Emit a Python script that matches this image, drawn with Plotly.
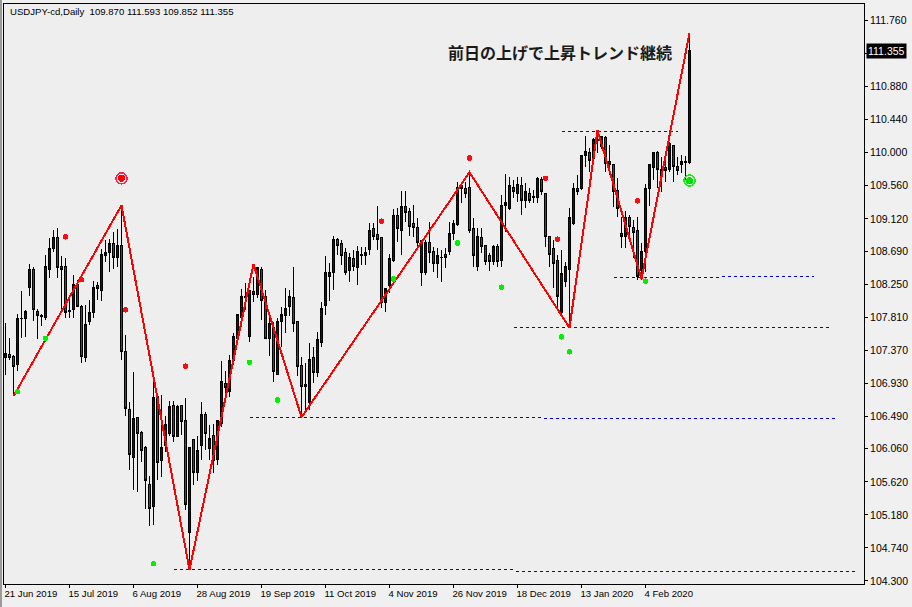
import plotly.graph_objects as go

open_ = [107.28,107.32,107.29,107.18,107.79,107.79,108.20,108.45,107.89,107.83,
107.81,108.45,108.72,108.87,108.49,108.49,107.90,107.91,108.25,107.95,
107.28,107.76,107.87,108.23,108.17,108.63,108.67,108.79,108.60,108.77,
107.35,106.58,105.94,106.47,106.27,106.08,105.59,105.29,106.75,105.90,
106.11,106.26,106.63,106.22,106.63,106.43,104.95,106.18,105.75,106.11,
106.52,106.07,106.23,105.92,106.39,106.93,106.82,107.24,107.53,107.81,
108.09,107.55,108.15,108.12,108.45,108.09,107.53,107.68,107.05,107.76,
107.83,107.96,108.08,107.75,107.17,106.92,106.67,107.27,107.08,107.47,
107.97,108.35,108.41,108.85,108.79,108.67,108.43,108.59,108.47,108.65,
108.63,108.71,108.99,108.91,108.87,108.01,108.23,108.56,109.16,108.97,
109.29,109.22,109.06,109.01,108.41,108.41,108.81,108.68,108.53,108.61,
108.65,108.69,108.92,109.05,109.56,109.52,109.54,108.99,108.49,108.87,
108.76,108.63,108.55,108.75,108.56,109.30,109.26,109.54,109.46,109.56,
109.36,109.46,109.42,109.41,109.64,109.46,108.88,108.72,108.57,107.87,
108.29,108.44,109.06,109.53,109.53,109.96,110.00,109.92,110.18,110.08,
110.20,109.88,109.84,109.50,108.92,108.88,109.14,109.01,108.97,108.43,
108.68,109.53,109.81,110.00,109.68,109.80,109.78,110.09,109.82,109.84,
109.88,109.870]
high = [107.73,107.53,107.31,107.85,108.16,107.91,108.52,108.48,107.92,107.85,
108.64,108.87,108.97,109.00,108.63,108.60,108.08,108.37,108.31,107.97,
107.97,108.04,108.29,108.28,108.72,108.84,108.85,108.95,108.99,109.30,
107.57,106.68,107.08,106.47,106.30,106.10,105.70,106.98,106.76,106.78,
106.50,106.70,106.70,106.64,106.64,106.74,106.08,106.18,106.23,106.68,
106.55,106.38,106.39,106.44,107.23,107.10,107.31,107.60,107.85,108.19,
108.27,108.17,108.35,108.48,108.48,108.17,107.84,107.75,107.80,107.95,
108.20,108.17,108.48,107.75,107.28,107.20,107.47,107.41,107.61,108.01,
108.63,108.53,108.89,108.87,108.84,108.73,108.67,108.71,108.76,108.75,
108.75,109.06,109.06,109.29,108.88,108.19,108.65,109.25,109.26,109.49,
109.49,109.26,109.30,109.13,108.84,108.84,109.08,108.75,108.73,108.71,
108.73,109.08,109.11,109.61,109.61,109.61,109.74,109.13,109.00,109.00,
108.77,108.67,108.77,108.79,109.44,109.72,109.68,109.64,109.68,109.68,
109.60,109.53,109.50,109.68,109.68,109.46,108.89,108.84,108.64,108.71,
108.55,109.26,109.60,109.70,109.97,110.22,110.06,110.20,110.30,110.22,
110.22,110.10,109.85,109.66,109.14,109.22,109.17,109.11,109.14,108.80,
109.58,109.85,110.01,110.02,109.94,109.97,110.14,110.10,109.94,109.97,
109.96,111.593]
low = [107.04,107.24,106.76,107.09,107.53,107.55,108.09,107.76,107.52,107.69,
107.77,108.33,108.68,108.33,107.87,107.80,107.80,107.80,107.95,107.20,
107.21,107.71,107.80,108.04,108.03,108.55,108.41,108.45,108.48,107.24,
106.50,105.78,105.51,105.48,105.88,105.26,105.03,105.05,105.64,105.68,
106.02,106.23,106.15,106.22,106.24,105.25,104.45,105.58,105.63,105.91,
106.04,105.91,105.74,105.84,106.35,106.75,106.75,107.18,107.49,107.68,
107.91,107.48,108.01,108.07,107.77,107.53,107.29,106.95,107.05,107.41,
107.60,107.83,107.61,107.03,106.48,106.54,106.58,106.94,107.02,107.41,
107.84,108.03,108.17,108.64,108.51,108.37,108.28,108.43,108.24,108.51,
108.51,108.64,108.84,108.71,107.93,107.88,108.13,108.55,108.81,108.64,
109.08,108.89,108.88,108.76,108.23,108.37,108.53,108.41,108.33,108.28,
108.47,108.64,108.84,109.02,109.33,109.40,108.93,108.48,108.43,108.67,
108.51,108.43,108.51,108.48,108.48,108.95,109.24,109.40,109.34,109.17,
109.26,109.33,109.33,109.33,109.44,108.75,108.48,108.20,107.93,107.81,
108.21,107.67,109.04,109.44,109.50,109.81,109.74,109.88,110.00,110.05,
109.74,109.70,109.28,109.14,108.73,108.73,108.88,108.60,108.31,108.31,
108.41,109.29,109.64,109.53,109.48,109.61,109.74,109.61,109.70,109.73,
109.64,109.852]
close = [107.33,107.28,107.15,107.79,107.80,107.89,108.44,107.91,107.83,107.82,
108.49,108.73,108.87,108.47,108.45,107.87,107.89,108.25,107.95,107.29,
107.72,107.87,108.21,108.19,108.64,108.67,108.79,108.60,108.77,107.36,
106.59,105.98,106.46,106.26,106.04,105.64,105.27,106.74,105.88,106.08,
106.38,106.62,106.22,106.62,106.42,105.32,106.08,105.74,106.04,106.52,
106.26,106.20,105.90,106.43,106.95,106.88,107.24,107.55,107.85,108.09,
108.08,108.16,108.11,108.47,108.04,107.53,107.73,107.09,107.76,107.85,
107.93,108.09,107.73,107.16,106.89,106.89,107.25,107.07,107.52,107.93,
108.40,108.40,108.85,108.76,108.63,108.40,108.60,108.48,108.68,108.63,
108.67,108.97,108.88,108.85,108.01,108.19,108.59,109.17,108.99,109.28,
109.21,109.02,109.01,108.80,108.83,108.80,108.67,108.53,108.63,108.60,
108.61,108.93,109.06,109.54,109.52,109.46,108.96,108.63,108.88,108.75,
108.55,108.55,108.75,108.55,109.30,109.34,109.57,109.49,109.58,109.36,
109.48,109.37,109.41,109.66,109.48,108.88,108.65,108.53,108.09,108.39,
108.49,109.14,109.53,109.49,109.96,110.02,109.90,110.17,110.16,110.21,
109.86,109.84,109.48,109.26,108.89,109.14,109.02,108.94,108.35,108.69,
109.53,109.84,110.00,109.78,109.78,109.77,110.12,109.82,109.77,109.89,
109.87,111.355]

zigzag_bar = [2, 29, 46, 62, 74, 116, 141, 148, 159, 171]
zigzag_price = [106.76, 109.30, 104.45, 108.52, 106.48, 109.74, 107.67, 110.30, 108.32, 111.593]

red_dot_bar = [15, 19, 30, 45, 94, 116, 135, 138, 158]
red_dot_price = [108.88, 108.31, 107.91, 107.16, 109.09, 109.93, 109.66, 108.85, 109.36]
green_dot_bar = [3, 10, 37, 61, 68, 97, 113, 124, 139, 141, 160]
green_dot_price = [106.82, 107.53, 104.53, 107.21, 106.71, 108.32, 108.80, 108.21, 107.55, 107.35, 108.29]

level_start = [42, 127.5, 61, 134.5, 127, 152, 179, 139]
level_end = [127.5, 212.5, 134.5, 207.5, 206, 179, 202, 168]
level_price = [104.45, 104.43, 106.47, 106.46, 107.68, 108.34, 108.35, 110.28]

ytick_values = [111.76, 111.32, 110.88, 110.44, 110.00, 109.56, 109.12, 108.69, 108.25,
                107.81, 107.37, 106.93, 106.49, 106.06, 105.62, 105.18, 104.74, 104.30]
xtick_bars = [0, 16, 32, 48, 64, 80, 96, 112, 128, 144, 160]
xtick_labels = ["21 Jun 2019", "15 Jul 2019", "6 Aug 2019", "28 Aug 2019", "19 Sep 2019",
                "11 Oct 2019", "4 Nov 2019", "26 Nov 2019", "18 Dec 2019", "13 Jan 2020", "4 Feb 2020"]
header = "USDJPY-cd,Daily  109.870 111.593 109.852 111.355"
headline = "前日の上げで上昇トレンド継続"
last_price = "111.355"

bars = list(range(len(close)))
UI_FONT = "Liberation Sans, Arial, sans-serif"

fig = go.Figure()
fig.add_trace(go.Candlestick(
    x=bars, open=open_, high=high, low=low, close=close,
    increasing=dict(line=dict(color="black", width=1), fillcolor="#0000E0"),
    decreasing=dict(line=dict(color="black", width=1), fillcolor="#F00000"),
    whiskerwidth=0, showlegend=False, hoverinfo="skip"))
for s, e, p in zip(level_start, level_end, level_price):
    fig.add_trace(go.Scatter(x=[s, e], y=[p, p], mode="lines", showlegend=False,
                             line=dict(color="#0000D8", width=1, dash="3px,3px")))
fig.add_trace(go.Scatter(x=zigzag_bar, y=zigzag_price, mode="lines", showlegend=False,
                         line=dict(color="#FF0000", width=2)))
fig.add_trace(go.Scatter(x=red_dot_bar, y=red_dot_price, mode="markers", showlegend=False,
                         marker=dict(color="#FF0A14", size=5.5)))
fig.add_trace(go.Scatter(x=green_dot_bar, y=green_dot_price, mode="markers", showlegend=False,
                         marker=dict(color="#00F000", size=5.5)))
fig.add_trace(go.Scatter(x=[29], y=[109.66], mode="markers", showlegend=False,
                         marker=dict(color="#FF0000", size=7, line=dict(width=0))))
fig.add_trace(go.Scatter(x=[29], y=[109.66], mode="markers", showlegend=False,
                         marker=dict(symbol="circle-open", color="#FF2050", size=11,
                                     line=dict(width=1.5))))
fig.add_trace(go.Scatter(x=[171], y=[109.63], mode="markers", showlegend=False,
                         marker=dict(color="#00E000", size=7, line=dict(width=0))))
fig.add_trace(go.Scatter(x=[171], y=[109.63], mode="markers", showlegend=False,
                         marker=dict(symbol="circle-open", color="#10F010", size=11,
                                     line=dict(width=1.5))))

fig.add_annotation(text=header, xref="paper", yref="paper", x=0.005, y=1.0,
                   xanchor="left", yanchor="top", showarrow=False,
                   font=dict(family=UI_FONT, size=9.6, color="black"))
fig.add_annotation(text="<b>" + headline + "</b>", xref="x", yref="y", x=138.5, y=111.34,
                   xanchor="center", yanchor="middle", showarrow=False,
                   font=dict(family="Noto Sans CJK JP", size=16, color="#1a1a1a"))
fig.add_annotation(text=last_price, xref="paper", yref="y", x=1, y=111.355,
                   xanchor="left", yanchor="middle", xshift=2, showarrow=False,
                   bgcolor="black", borderpad=1,
                   font=dict(family=UI_FONT, size=10.5, color="white"))

fig.add_shape(type="rect", xref="paper", yref="paper", x0=-4/860, x1=-2/860, y0=-23/580, y1=1+4/580,
              fillcolor="#9A9A9A", line_width=0, layer="below")

fig.update_layout(
    width=912, height=607, autosize=False,
    margin=dict(l=4, r=48, t=4, b=23, pad=0),
    paper_bgcolor="#F0F0F0", plot_bgcolor="#EEEEEE",
    showlegend=False, hovermode=False, boxgap=0.45, boxgroupgap=0,
    font=dict(family=UI_FONT, size=11, color="black"),
    xaxis=dict(range=[-0.375, 214.625], rangeslider=dict(visible=False),
               tickmode="array", tickvals=xtick_bars, ticktext=xtick_labels,
               tickangle=0, automargin=False, tickfont=dict(size=9.6),
               ticks="outside", ticklen=3, tickcolor="black", tickwidth=1,
               ticklabelposition="outside right", ticklabelshift=-2,
               showgrid=False, zeroline=False,
               showline=True, linecolor="black", linewidth=1, mirror=True),
    yaxis=dict(range=[104.26, 111.98], side="right", automargin=False,
               tickmode="array", tickvals=ytick_values, tickfont=dict(size=10.5),
               ticktext=["" if v == 111.32 else f"{v:.3f}" for v in ytick_values],
               ticks="outside", ticklen=3, tickcolor="black", tickwidth=1,
               showgrid=False, zeroline=False,
               showline=True, linecolor="black", linewidth=1, mirror=True),
)

crisp = ("document.body.style.margin='0';document.documentElement.style.overflow='hidden';"
         "document.querySelectorAll('.boxlayer path,.scatterlayer path').forEach(function(p)"
         "{p.style.shapeRendering='crispEdges';});")
fig.write_html("out.html", config=dict(displayModeBar=False), post_script=crisp)
